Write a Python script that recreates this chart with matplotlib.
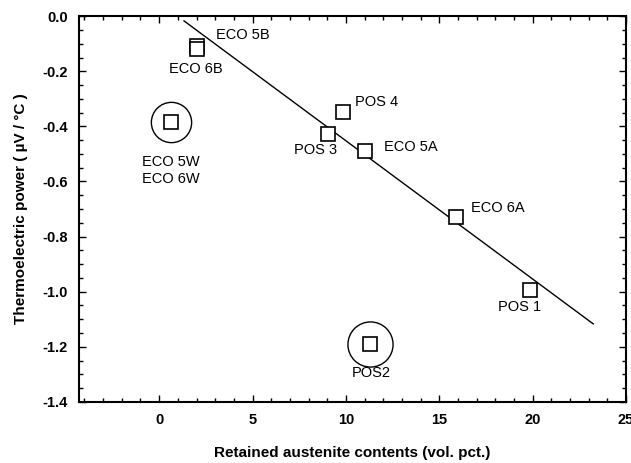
import numpy as np
import matplotlib.pyplot as plt
from matplotlib.ticker import MultipleLocator

plt.rcParams['font.family'] = ['Liberation Sans', 'DejaVu Sans']

# --- data ---
# retained austenite (vol. pct.) vs thermoelectric power (uV/C)
samples = ['ECO 5B', 'ECO 6B', 'ECO 5W', 'POS 4', 'POS 3', 'ECO 5A', 'ECO 6A', 'POS 1', 'POS2']
austenite = [2.05, 2.0, 0.65, 9.85, 9.05, 11.05, 15.9, 19.85, 11.3]
tep = [-0.108, -0.118, -0.385, -0.348, -0.428, -0.49, -0.728, -0.994, -1.19]

# the two circled (outlier) points
circled_x = [0.65, 11.3]
circled_y = [-0.385, -1.19]
circled_size = [29, 32.5]

# fitted trend line end points
line_x = [1.33, 23.25]
line_y = [-0.017, -1.117]

# labels: (text, x, y, horizontal alignment)
labels = [
    ('ECO 5B', 3.05, -0.069, 'left'),
    ('ECO 6B', 1.97, -0.193, 'center'),
    ('ECO 5W\nECO 6W', 0.64, -0.56, 'center'),
    ('POS 4', 10.5, -0.312, 'left'),
    ('POS 3', 9.55, -0.486, 'right'),
    ('ECO 5A', 12.05, -0.475, 'left'),
    ('ECO 6A', 16.7, -0.697, 'left'),
    ('POS 1', 19.3, -1.055, 'center'),
    ('POS2', 11.35, -1.295, 'center'),
]

fig = plt.figure(figsize=(6.31, 4.63), dpi=100)
ax = fig.add_axes([0.125, 0.132, 0.867, 0.833])

ax.plot(line_x, line_y, color='black', lw=1.0)
ax.plot(austenite, tep, 's', mfc='white', mec='black', ms=9.5, mew=1.2, ls='none')
for cx, cy, s in zip(circled_x, circled_y, circled_size):
    ax.plot(cx, cy, 'o', mfc='none', mec='black', ms=s, mew=1.0)

for txt, x, y, ha in labels:
    ax.text(x, y, txt, ha=ha, va='center', fontsize=10.5, linespacing=1.2)

ax.xaxis.set_major_locator(MultipleLocator(5))
ax.xaxis.set_minor_locator(MultipleLocator(1))
ax.yaxis.set_major_locator(MultipleLocator(0.2))
ax.yaxis.set_minor_locator(MultipleLocator(0.05))
ax.set_xlim(-4.3, 25.0)
ax.set_ylim(-1.4, 0.0)
ax.yaxis.set_major_formatter(plt.FormatStrFormatter('%.1f'))

ax.tick_params(which='both', direction='in', top=True, right=True, labelsize=10.5, width=1.0)
ax.tick_params(which='major', length=5, pad=8)
ax.tick_params(which='minor', length=3)
for lab in ax.get_xticklabels() + ax.get_yticklabels():
    lab.set_fontweight('bold')
for sp in ax.spines.values():
    sp.set_linewidth(1.5)

ax.set_xlabel('Retained austenite contents (vol. pct.)', fontsize=11, fontweight='bold', labelpad=14)
ax.set_ylabel('Thermoelectric power ( \u00b5V / \u00b0C )', fontsize=11, fontweight='bold', labelpad=10)

fig.savefig('out.png', dpi=100)
